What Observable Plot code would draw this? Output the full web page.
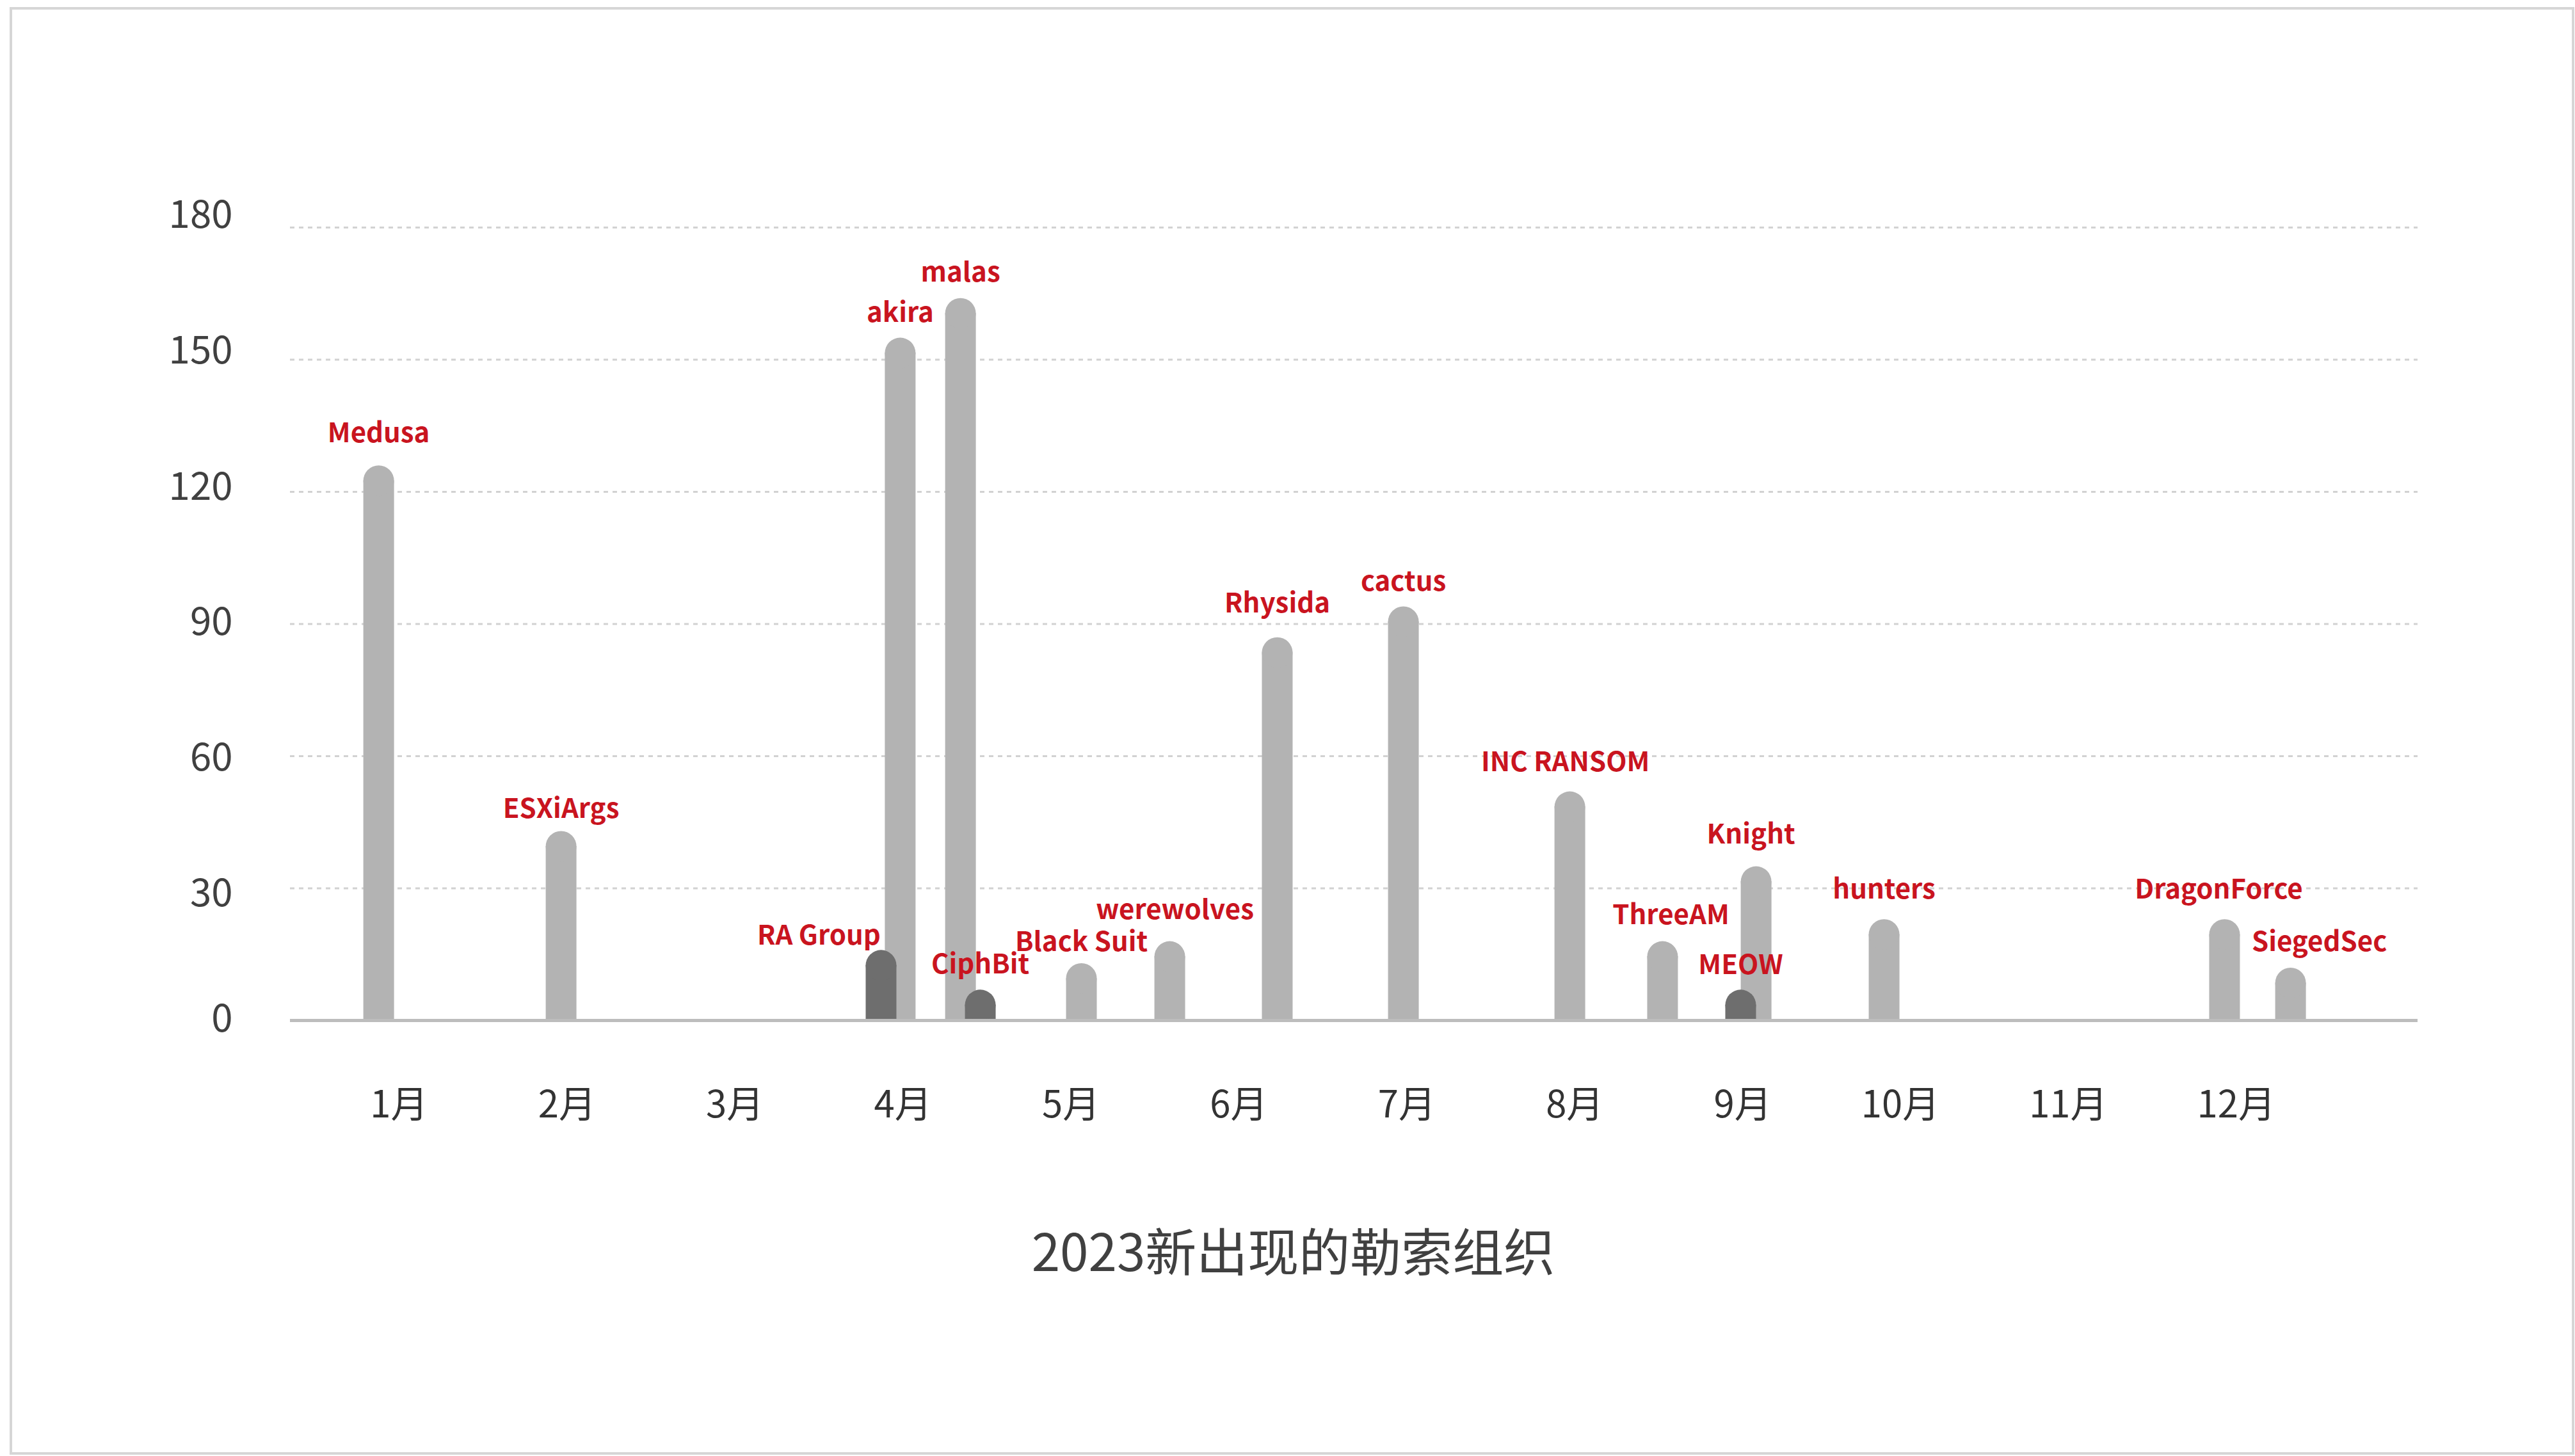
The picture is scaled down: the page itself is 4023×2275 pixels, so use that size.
<!DOCTYPE html>
<html>
<head>
<meta charset="utf-8">
<script src="https://cdn.jsdelivr.net/npm/d3@7"></script>
<script src="https://cdn.jsdelivr.net/npm/@observablehq/plot@0.6"></script>
<style>
  html, body { margin: 0; padding: 0; background: #ffffff; }
  body { width: 4023px; height: 2275px; position: relative; overflow: hidden;
         font-family: "Noto Sans CJK SC", "Noto Sans", sans-serif; }
  #frame { position: absolute; left: 15px; top: 11px; width: 4007px; height: 2262px;
           box-sizing: border-box; border: 4px solid #d6d6d6; }
  #chart { position: absolute; left: 0; top: 0; }
  #title { position: absolute; left: 9px; width: 4023px; top: 1907px; text-align: center;
           font-size: 80px; line-height: 88px; color: #404040; font-weight: 400; }
</style>
</head>
<body>
<div id="frame"></div>
<div id="chart"></div>
<div id="title">2023新出现的勒索组织</div>
<script>
// ---- data ----
const groups = ["Medusa","ESXiArgs","RA Group","akira","malas","CiphBit","Black Suit","werewolves",
                "Rhysida","cactus","INC RANSOM","ThreeAM","MEOW","Knight","hunters","DragonForce","SiegedSec"];
// position along the month axis (tick m carries the label "m月")
const monthPosition = [0.707,1.793,3.698,3.812,4.171,4.289,4.891,5.417,6.057,6.808,7.799,8.351,8.816,8.908,9.670,11.697,12.090];
const counts = [126,43,16,155,164,7,13,18,87,94,52,18,7,35,23,23,12];
const darkGroups = ["RA Group","CiphBit","MEOW"];
const monthTicks = [1,2,3,4,5,6,7,8,9,10,11,12];
const monthLabels = ["1月","2月","3月","4月","5月","6月","7月","8月","9月","10月","11月","12月"];
const yTicks = [0,30,60,90,120,150,180];

// ---- layout nudges (px only) ----
const yLabelNudge = [-2, 9, 3, -2, -7, -13, -19];
const labelNudge = {
  "Medusa":[0,-36], "ESXiArgs":[0,-21], "RA Group":[-97,-8], "akira":[0,-25], "malas":[0,-26],
  "CiphBit":[0,-25], "Black Suit":[0,-19], "werewolves":[8,-35], "Rhysida":[0,-39], "cactus":[0,-24],
  "INC RANSOM":[-7,-32], "ThreeAM":[13,-27], "MEOW":[0,-24], "Knight":[-8,-36], "hunters":[0,-32],
  "DragonForce":[-9,-32], "SiegedSec":[45,-26]
};

const rows = groups.map((g, i) => ({group: g, pos: monthPosition[i], value: counts[i], dark: darkGroups.includes(g)}));
const light = rows.filter(d => !d.dark);
const dark = rows.filter(d => d.dark);

const BAR_W = 48;
const LIGHT = "#b3b3b3", DARK = "#6e6e6e", RED = "#c9141f";

function barMarks(data, color) {
  return [
    // straight body from the baseline up to half a bar-width below the top
    Plot.ruleX(data, {x: "pos", y1: "value", y2: 0, stroke: color, strokeWidth: BAR_W,
                      insetTop: BAR_W / 2, strokeLinecap: "butt"}),
    // rounded cap
    Plot.dot(data, {x: "pos", y: "value", r: BAR_W / 2, fill: color, dy: BAR_W / 2})
  ];
}

const labelMarks = rows.map(d => Plot.text([d], {
  x: "pos", y: "value", text: "group",
  dx: labelNudge[d.group][0], dy: labelNudge[d.group][1],
  lineAnchor: "bottom", textAnchor: "middle",
  fontSize: 42, fontWeight: "bold", fill: RED
}));

const yAxisMarks = yTicks.map((t, i) => Plot.axisY([t], {
  tickSize: 0, tickPadding: 90, fontSize: 60, fill: "#404040", label: null, dy: yLabelNudge[i]
}));

const chart = Plot.plot({
  width: 4023,
  height: 1800,
  marginLeft: 453,
  marginRight: 246,
  marginTop: 355,
  marginBottom: 206,
  style: {fontFamily: "'Noto Sans CJK SC', 'Noto Sans', sans-serif", background: "transparent", overflow: "visible"},
  x: {type: "linear", domain: [0.1806, 12.848]},
  y: {domain: [0, 180]},
  marks: [
    Plot.gridY(yTicks.filter(v => v > 0), {stroke: "#d2d2d2", strokeOpacity: 1, strokeWidth: 3, strokeDasharray: "7,7"}),
    ...yAxisMarks,
    Plot.axisX(monthTicks, {tickSize: 0, tickPadding: 110, fontSize: 58, fill: "#333333", label: null,
                            textAnchor: "end", tickFormat: m => monthLabels[m - 1]}),
    ...barMarks(light, LIGHT),
    ...barMarks(dark, DARK),
    Plot.ruleY([0], {stroke: "#bdbdbd", strokeWidth: 5}),
    ...labelMarks
  ]
});
document.getElementById("chart").appendChild(chart);
</script>
</body>
</html>
